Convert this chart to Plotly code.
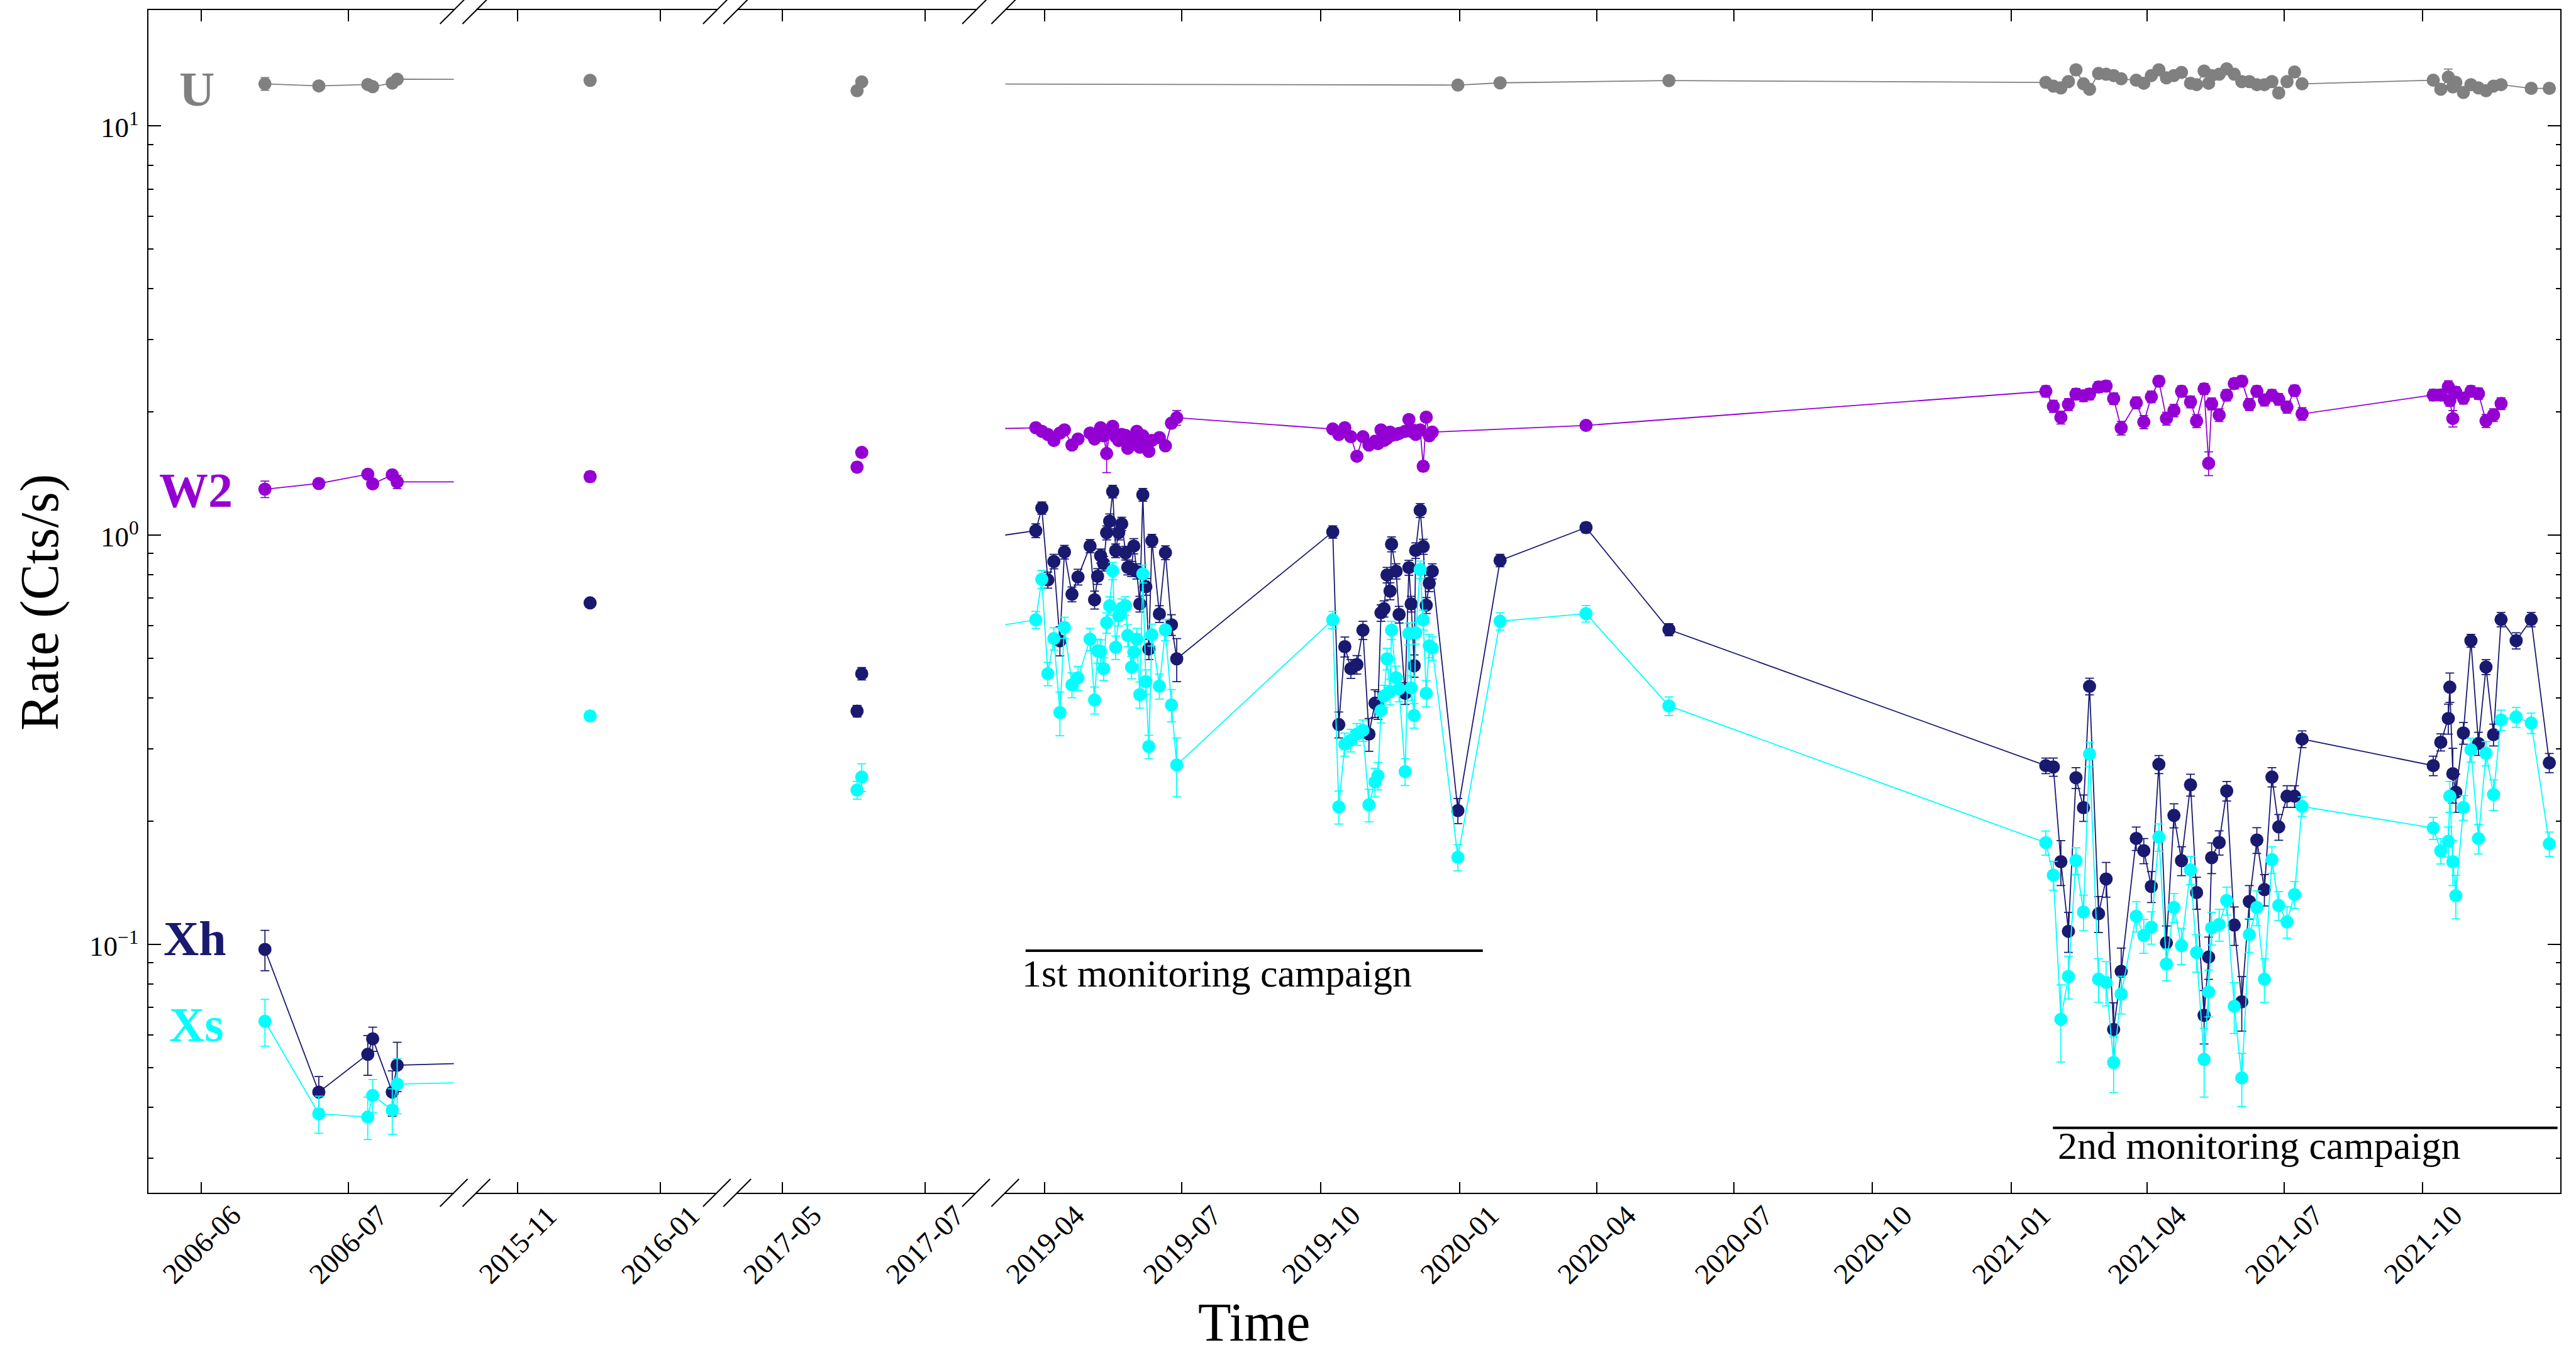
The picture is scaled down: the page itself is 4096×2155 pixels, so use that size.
import math
import plotly.graph_objects as go

# ------------------------------------------------------------------
# Swift monitoring light curves: UVOT U / UVW2 and XRT hard / soft
# count rates, shown on a broken time axis with four panels.
# ------------------------------------------------------------------

# XRT epochs (also used for UVW2)
xrt_dates = [
    # 2006
    "2006-06-14", "2006-06-25", "2006-07-05", "2006-07-06", "2006-07-10", "2006-07-11",
    # 2015
    "2015-12-02",
    # 2017
    "2017-06-02", "2017-06-04",
    # 2019, first campaign (spring)
    "2019-03-26", "2019-03-30", "2019-04-03", "2019-04-07", "2019-04-11", "2019-04-14",
    "2019-04-19", "2019-04-23", "2019-05-01", "2019-05-04", "2019-05-06", "2019-05-08",
    "2019-05-10", "2019-05-12", "2019-05-14", "2019-05-16", "2019-05-18", "2019-05-20",
    "2019-05-22", "2019-05-24 12:00", "2019-05-26", "2019-05-28 12:00", "2019-05-30",
    "2019-06-01", "2019-06-03", "2019-06-05", "2019-06-07", "2019-06-09", "2019-06-11",
    "2019-06-16", "2019-06-20", "2019-06-24", "2019-06-27 12:00",
    # 2019, first campaign (autumn)
    "2019-10-09", "2019-10-13", "2019-10-17", "2019-10-21", "2019-10-25", "2019-10-29",
    "2019-11-02", "2019-11-06", "2019-11-08", "2019-11-10", "2019-11-12", "2019-11-14",
    "2019-11-16", "2019-11-17", "2019-11-20", "2019-11-22", "2019-11-26", "2019-11-28 12:00",
    "2019-11-30", "2019-12-02", "2019-12-03", "2019-12-06", "2019-12-08", "2019-12-10",
    "2019-12-12", "2019-12-14", "2019-12-31",
    # 2020
    "2020-01-28", "2020-03-25", "2020-05-19",
    # 2021, second campaign (spring)
    "2021-01-24", "2021-01-29", "2021-02-03", "2021-02-08", "2021-02-13", "2021-02-18",
    "2021-02-22", "2021-02-28", "2021-03-05", "2021-03-10", "2021-03-15", "2021-03-25",
    "2021-03-30", "2021-04-04", "2021-04-09", "2021-04-14", "2021-04-19", "2021-04-24",
    "2021-04-30", "2021-05-04", "2021-05-09", "2021-05-12", "2021-05-14", "2021-05-19",
    "2021-05-24", "2021-05-29", "2021-06-03", "2021-06-08", "2021-06-13", "2021-06-18",
    "2021-06-23", "2021-06-27 12:00", "2021-07-03", "2021-07-08", "2021-07-13",
    # 2021, second campaign (autumn)
    "2021-10-08", "2021-10-13", "2021-10-18", "2021-10-19", "2021-10-21", "2021-10-23",
    "2021-10-28", "2021-11-02", "2021-11-07", "2021-11-12", "2021-11-17", "2021-11-22",
    "2021-12-02", "2021-12-12", "2021-12-24",
]

xh_rate = [
    0.0971, 0.0435, 0.0538, 0.0587, 0.0435, 0.0506,
    0.682,
    0.371, 0.458,
    1.024, 1.163, 0.776, 0.861, 0.551, 0.908, 0.716, 0.789, 0.939, 0.694, 0.792,
    0.889, 0.851, 1.012, 1.080, 1.276, 0.915, 1.012, 1.064, 0.903, 0.833, 0.826,
    0.939, 0.815, 0.678, 1.253, 0.747, 0.526, 0.968, 0.641, 0.905, 0.603, 0.498,
    1.017, 0.344, 0.533, 0.471, 0.482, 0.585, 0.326, 0.388, 0.384, 0.645, 0.660,
    0.798, 0.729, 0.949, 0.815, 0.639, 0.410, 0.832, 0.678, 0.479, 0.916, 1.148,
    0.936, 0.673, 0.762, 0.815, 0.212,
    0.866, 1.042, 0.587,
    0.273, 0.271, 0.159, 0.1075, 0.255, 0.2155, 0.4265, 0.1187, 0.1443, 0.0619, 0.0858,
    0.1813, 0.1692, 0.1384, 0.275, 0.1008, 0.2063, 0.160, 0.245, 0.1337, 0.067, 0.093,
    0.1627, 0.1771, 0.2367, 0.1113, 0.0723, 0.1271, 0.1796, 0.1359, 0.256, 0.1934,
    0.2298, 0.2298, 0.317,
    0.273, 0.3114, 0.356, 0.4246, 0.261, 0.235, 0.328, 0.5515, 0.3093, 0.4755, 0.325,
    0.621, 0.5515, 0.621, 0.2773,
]
xh_err = [
    0.011, 0.004, 0.006, 0.004, 0.0055, 0.007,
    0.012,
    0.012, 0.016,
    0.04, 0.04, 0.035, 0.035, 0.045, 0.035, 0.03, 0.035, 0.035, 0.035, 0.035,
    0.035, 0.035, 0.04, 0.045, 0.045, 0.035, 0.04, 0.04, 0.035, 0.035, 0.035,
    0.04, 0.035, 0.03, 0.045, 0.035, 0.03, 0.035, 0.03, 0.035, 0.035, 0.06,
    0.035, 0.025, 0.03, 0.025, 0.025, 0.03, 0.03, 0.03, 0.03, 0.03, 0.03,
    0.035, 0.035, 0.04, 0.035, 0.03, 0.025, 0.035, 0.03, 0.03, 0.04, 0.045,
    0.04, 0.03, 0.035, 0.035, 0.015,
    0.03, 0.03, 0.02,
    0.012, 0.014, 0.02, 0.012, 0.015, 0.016, 0.02, 0.012, 0.014, 0.01, 0.012,
    0.012, 0.012, 0.012, 0.014, 0.01, 0.014, 0.013, 0.015, 0.012, 0.01, 0.011,
    0.014, 0.012, 0.013, 0.012, 0.011, 0.012, 0.013, 0.012, 0.014, 0.014,
    0.014, 0.014, 0.015,
    0.015, 0.015, 0.03, 0.035, 0.04, 0.025, 0.02, 0.02, 0.02, 0.02, 0.02,
    0.025, 0.025, 0.025, 0.015,
]

xs_rate = [
    0.0648, 0.0385, 0.0378, 0.0427, 0.0393, 0.0455,
    0.361,
    0.238, 0.256,
    0.620, 0.779, 0.458, 0.558, 0.368, 0.594, 0.430, 0.447, 0.556, 0.395, 0.521,
    0.519, 0.471, 0.610, 0.671, 0.817, 0.531, 0.634, 0.662, 0.671, 0.568, 0.475,
    0.517, 0.556, 0.407, 0.803, 0.438, 0.304, 0.570, 0.427, 0.586, 0.384, 0.274,
    0.620, 0.2165, 0.308, 0.315, 0.326, 0.333, 0.219, 0.249, 0.258, 0.372, 0.404,
    0.498, 0.414, 0.585, 0.448, 0.421, 0.264, 0.574, 0.423, 0.362, 0.576, 0.823,
    0.620, 0.410, 0.536, 0.529, 0.163,
    0.615, 0.642, 0.382,
    0.177, 0.1474, 0.0655, 0.0834, 0.160, 0.1198, 0.2913, 0.0821, 0.0806, 0.0514, 0.0755,
    0.117, 0.105, 0.110, 0.1826, 0.0894, 0.1229, 0.0992, 0.1518, 0.0954, 0.0523, 0.0764,
    0.1095, 0.1117, 0.1278, 0.0705, 0.0471, 0.1055, 0.1229, 0.0821, 0.1608, 0.1243,
    0.1134, 0.1322, 0.217,
    0.1922, 0.169, 0.1783, 0.2298, 0.159, 0.1313, 0.2157, 0.2985, 0.1811, 0.2926, 0.232,
    0.353, 0.3589, 0.347, 0.1758,
]
xs_err = [
    0.0085, 0.004, 0.0045, 0.004, 0.005, 0.007,
    0.01,
    0.012, 0.02,
    0.03, 0.04, 0.03, 0.035, 0.045, 0.035, 0.03, 0.03, 0.035, 0.03, 0.035,
    0.035, 0.03, 0.035, 0.035, 0.04, 0.035, 0.035, 0.035, 0.035, 0.035, 0.03,
    0.035, 0.035, 0.03, 0.04, 0.03, 0.02, 0.035, 0.03, 0.035, 0.035, 0.045,
    0.03, 0.02, 0.02, 0.02, 0.02, 0.02, 0.02, 0.02, 0.02, 0.025, 0.025,
    0.03, 0.03, 0.03, 0.03, 0.03, 0.02, 0.035, 0.03, 0.025, 0.035, 0.04,
    0.035, 0.03, 0.035, 0.035, 0.012,
    0.03, 0.03, 0.02,
    0.012, 0.012, 0.014, 0.01, 0.012, 0.012, 0.02, 0.01, 0.01, 0.008, 0.008,
    0.01, 0.01, 0.01, 0.014, 0.008, 0.01, 0.01, 0.012, 0.01, 0.01, 0.01,
    0.01, 0.01, 0.01, 0.01, 0.007, 0.01, 0.012, 0.01, 0.012, 0.01,
    0.01, 0.01, 0.012,
    0.012, 0.012, 0.015, 0.02, 0.02, 0.016, 0.015, 0.02, 0.015, 0.02, 0.02,
    0.02, 0.02, 0.02, 0.012,
]

# UVW2 shares the XRT epochs; None where no UVW2 exposure exists
w2_rate = [
    1.293, 1.335, 1.407, 1.332, 1.402, 1.347,
    1.388,
    1.464, 1.590,
    1.827, 1.791, 1.759, 1.701, 1.773, 1.805, 1.658, 1.715, 1.773, 1.715, 1.760,
    1.827, 1.746, 1.580, 1.780, 1.842, 1.737, 1.700, 1.759, 1.750, 1.628, 1.660,
    1.720, 1.791, 1.637, 1.746, 1.700, 1.600, 1.701, 1.728, 1.650, 1.875, 1.933,
    1.814, 1.759, 1.827, 1.737, 1.556, 1.737, 1.658, 1.693, 1.671, 1.805, 1.701,
    1.720, 1.782, 1.750, 1.759, 1.770, 1.791, 1.914, 1.791, 1.800, 1.760, 1.805,
    1.471, 1.939, 1.746, 1.782, None,
    None, 1.851, None,
    2.243, 2.062, 1.936, 2.083, 2.208, 2.187, 2.208, 2.297, 2.310, 2.152, 1.824,
    2.102, 1.887, 2.174, 2.375, 1.924, 2.013, 2.243, 2.114, 1.898, 2.274, 1.496,
    2.090, 1.962, 2.195, 2.342, 2.375, 2.083, 2.243, 2.136, 2.195, 2.144,
    2.053, 2.252, 1.975,
    2.197, 2.197, 2.300, 2.131, 1.924, 2.231, 2.158, 2.243, 2.214, 1.899, 1.963,
    2.093, None, None, None,
]
w2_err = [
    0.06, 0.03, 0.03, 0.03, 0.03, 0.05,
    0.04,
    0.04, 0.04,
    0.03, 0.03, 0.03, 0.04, 0.03, 0.03, 0.04, 0.03, 0.03, 0.03, 0.03,
    0.03, 0.03, 0.16, 0.03, 0.03, 0.03, 0.03, 0.03, 0.03, 0.03, 0.03,
    0.03, 0.03, 0.03, 0.03, 0.03, 0.03, 0.03, 0.03, 0.03, 0.05, 0.08,
    0.04, 0.03, 0.03, 0.03, 0.03, 0.03, 0.03, 0.03, 0.03, 0.03, 0.03,
    0.03, 0.03, 0.03, 0.03, 0.03, 0.03, 0.04, 0.03, 0.03, 0.03, 0.03,
    0.04, 0.04, 0.03, 0.03, None,
    None, 0.04, None,
    0.07, 0.07, 0.07, 0.07, 0.07, 0.07, 0.07, 0.07, 0.07, 0.07, 0.07,
    0.07, 0.07, 0.07, 0.07, 0.07, 0.07, 0.07, 0.07, 0.07, 0.07, 0.10,
    0.07, 0.07, 0.07, 0.07, 0.07, 0.07, 0.07, 0.07, 0.07, 0.07,
    0.07, 0.07, 0.07,
    0.07, 0.07, 0.08, 0.07, 0.09, 0.07, 0.07, 0.07, 0.07, 0.07, 0.07,
    0.07, None, None, None,
]

# UVOT U band has its own, sparser set of epochs
u_dates = [
    "2006-06-14", "2006-06-25", "2006-07-05", "2006-07-06", "2006-07-10", "2006-07-11",
    "2015-12-02",
    "2017-06-02", "2017-06-04",
    "2019-12-31", "2020-01-28", "2020-05-19",
    "2021-01-24", "2021-01-29", "2021-02-03", "2021-02-08", "2021-02-13", "2021-02-18",
    "2021-02-22", "2021-02-28", "2021-03-05", "2021-03-10", "2021-03-15", "2021-03-25",
    "2021-03-30", "2021-04-04", "2021-04-09", "2021-04-14", "2021-04-19", "2021-04-24",
    "2021-04-30", "2021-05-04", "2021-05-09", "2021-05-12", "2021-05-14", "2021-05-19",
    "2021-05-24", "2021-05-29", "2021-06-03", "2021-06-08", "2021-06-13", "2021-06-18",
    "2021-06-23", "2021-06-27 12:00", "2021-07-03", "2021-07-08", "2021-07-13",
    "2021-10-08", "2021-10-13", "2021-10-18", "2021-10-21", "2021-10-23", "2021-10-28",
    "2021-11-02", "2021-11-07", "2021-11-12", "2021-11-17", "2021-11-22", "2021-12-12",
    "2021-12-24",
]
u_rate = [
    12.65, 12.50, 12.60, 12.45, 12.70, 12.98,
    12.90,
    12.17, 12.79,
    12.56, 12.72, 12.88,
    12.75, 12.49, 12.36, 12.81, 13.69, 12.65, 12.27, 13.41, 13.35, 13.25, 13.01,
    12.91, 12.69, 13.25, 13.69, 13.08, 13.25, 13.49, 12.69, 12.59, 13.59, 12.69,
    13.25, 13.35, 13.76, 13.35, 12.81, 12.81, 12.59, 12.59, 12.81, 12.02, 12.81,
    13.52, 12.65,
    12.91, 12.27, 13.14, 12.43, 12.75, 12.05, 12.59, 12.36, 12.17, 12.49, 12.59,
    12.33, 12.33,
]
u_err = [
    0.45, 0.20, 0.20, 0.20, 0.20, 0.20,
    0.20,
    0.20, 0.20,
    0.20, 0.20, 0.20,
    0.20, 0.20, 0.20, 0.25, 0.20, 0.20, 0.25, 0.20, 0.20, 0.20, 0.20,
    0.20, 0.25, 0.20, 0.20, 0.20, 0.20, 0.20, 0.25, 0.20, 0.20, 0.25,
    0.20, 0.20, 0.20, 0.20, 0.20, 0.20, 0.20, 0.25, 0.20, 0.20, 0.20,
    0.20, 0.20,
    0.25, 0.20, 0.60, 0.30, 0.25, 0.20, 0.20, 0.20, 0.20, 0.20, 0.20,
    0.20, 0.20,
]

for label, seq, ref in [("xh_rate", xh_rate, xrt_dates), ("xh_err", xh_err, xrt_dates),
                        ("xs_rate", xs_rate, xrt_dates), ("xs_err", xs_err, xrt_dates),
                        ("w2_rate", w2_rate, xrt_dates), ("w2_err", w2_err, xrt_dates),
                        ("u_rate", u_rate, u_dates), ("u_err", u_err, u_dates)]:
    if len(seq) != len(ref):
        raise ValueError(f"{label}: {len(seq)} values for {len(ref)} epochs")

# Panels of the broken time axis: visible date span and tick dates
panel_ranges = [
    ("2006-05-21 05:00", "2006-07-22 13:40"),
    ("2015-10-14 08:00", "2016-01-25 06:00"),
    ("2017-04-11 17:00", "2017-07-22 22:00"),
    ("2019-03-05 17:00", "2021-12-31 06:30"),
]
panel_ticks = [
    ["2006-06-01", "2006-07-01"],
    ["2015-11-01", "2016-01-01"],
    ["2017-05-01", "2017-07-01"],
    ["2019-04-01", "2019-07-01", "2019-10-01", "2020-01-01", "2020-04-01",
     "2020-07-01", "2020-10-01", "2021-01-01", "2021-04-01", "2021-07-01",
     "2021-10-01"],
]
y_major = [0.1, 1, 10]
y_major_text = ["10<sup>\u22121</sup>", "10<sup>0</sup>", "10<sup>1</sup>"]
y_minor = [0.03, 0.04, 0.05, 0.06, 0.07, 0.08, 0.09,
           0.2, 0.3, 0.4, 0.5, 0.6, 0.7, 0.8, 0.9,
           2, 3, 4, 5, 6, 7, 8, 9]

COLORS = {"U": "#808080", "W2": "#9400D3", "Xh": "#191970", "Xs": "#00FFFF"}
SERIF = "Liberation Serif"

# ---- geometry: layout drawn on a 4680 x 2462 grid, scaled to output ----
S = 0.875
FIG_W, FIG_H = 4096, 2155
X_LEFT, X_RIGHT = 270 * S, 4653 * S
Y_TOP, Y_BOTTOM = 18 * S, 2168 * S
PLOT_W = X_RIGHT - X_LEFT
PLOT_H = Y_BOTTOM - Y_TOP
PANEL_GRID = [(270, 825), (866, 1303), (1340, 1774), (1827, 4653)]
Y_RANGE = [-1.6075, 1.2823]


def px(x):
    return (x * S - X_LEFT) / PLOT_W


def py(y):
    return (Y_BOTTOM - y * S) / PLOT_H


def y_log_paper(v):
    # position of a rate value on the shared log axis, as a paper fraction
    return (math.log10(v) - Y_RANGE[0]) / (Y_RANGE[1] - Y_RANGE[0])


fig = go.Figure()

series = [
    ("U", u_dates, u_rate, u_err),
    ("W2", xrt_dates, w2_rate, w2_err),
    ("Xh", xrt_dates, xh_rate, xh_err),
    ("Xs", xrt_dates, xs_rate, xs_err),
]

for k in range(4):
    xa = "x" if k == 0 else f"x{k + 1}"
    ya = "y" if k == 0 else f"y{k + 1}"
    mode = "lines+markers" if k in (0, 3) else "markers"
    for name, xd, yd, ed in series:
        c = COLORS[name]
        fig.add_trace(go.Scatter(
            x=xd, y=yd, mode=mode, xaxis=xa, yaxis=ya, name=name,
            error_y=dict(type="data", array=ed, color=c, thickness=1.75, width=7),
            marker=dict(color=c, size=21, line=dict(width=0)),
            line=dict(color=c, width=1.8),
            connectgaps=True, showlegend=False, hoverinfo="skip",
        ))

layout = dict(
    width=FIG_W, height=FIG_H, autosize=False,
    margin=dict(l=X_LEFT, r=FIG_W - X_RIGHT, t=Y_TOP, b=FIG_H - Y_BOTTOM, pad=0),
    paper_bgcolor="white", plot_bgcolor="white",
    font=dict(family=SERIF, color="black"),
    showlegend=False,
)

for k in range(4):
    a, b = PANEL_GRID[k]
    xname = "xaxis" if k == 0 else f"xaxis{k + 1}"
    yref = "y" if k == 0 else f"y{k + 1}"
    layout[xname] = dict(
        type="date", domain=[px(a), px(b)], range=list(panel_ranges[k]),
        anchor=yref, showline=True, linecolor="black", linewidth=2,
        mirror="ticks", ticks="inside", ticklen=17.5, tickwidth=1.75,
        tickcolor="black", tickmode="array", tickvals=panel_ticks[k],
        showticklabels=False, showgrid=False, zeroline=False, fixedrange=True,
    )

minor_ticks = dict(ticks="inside", ticklen=7.5, tickwidth=1.5, tickcolor="black",
                   tickmode="array", tickvals=y_minor, showgrid=False)

layout["yaxis"] = dict(
    type="log", range=Y_RANGE, domain=[0, 1], anchor="x", side="left",
    showline=True, linecolor="black", linewidth=2,
    ticks="inside", ticklen=20, tickwidth=1.75, tickcolor="black",
    tickmode="array", tickvals=y_major, showticklabels=False,
    minor=minor_ticks, showgrid=False, zeroline=False, fixedrange=True,
)
for k in (2, 3):
    layout[f"yaxis{k}"] = dict(type="log", range=Y_RANGE, domain=[0, 1],
                               anchor=f"x{k}", visible=False, fixedrange=True)
layout["yaxis4"] = dict(
    type="log", range=Y_RANGE, domain=[0, 1], anchor="x4", side="right",
    showline=True, linecolor="black", linewidth=2,
    ticks="inside", ticklen=20, tickwidth=1.75, tickcolor="black",
    tickmode="array", tickvals=y_major, showticklabels=False,
    minor=minor_ticks, showgrid=False, zeroline=False, fixedrange=True,
)
# short decade ticks at the cut edge of the last panel
layout["yaxis5"] = dict(
    type="log", range=Y_RANGE, domain=[0, 1], anchor="x4", side="left",
    overlaying="y4", showline=False, ticks="inside", ticklen=7,
    tickwidth=1.75, tickcolor="black", tickmode="array", tickvals=y_major,
    showticklabels=False, showgrid=False, zeroline=False, fixedrange=True,
)

annotations = []
shapes = []

# decade labels left of the rate axis
for v, txt in zip(y_major, y_major_text):
    annotations.append(dict(
        text=txt, x=px(255), y=y_log_paper(v), xref="paper", yref="paper",
        showarrow=False, xanchor="right", yanchor="middle",
        font=dict(family=SERIF, size=45, color="black"),
    ))

# rotated date labels centred under each tick
for k, ticks in enumerate(panel_ticks):
    xr = "x" if k == 0 else f"x{k + 1}"
    for t in ticks:
        annotations.append(dict(
            text=t[:7], x=t, xref=xr, y=py(2262), yref="paper",
            textangle=-45, showarrow=False, xanchor="center", yanchor="middle",
            font=dict(family=SERIF, size=46, color="black"),
        ))

# axis titles
annotations.append(dict(text="Time", x=px(2279), y=py(2461), xref="paper", yref="paper",
                        showarrow=False, xanchor="center", yanchor="bottom",
                        font=dict(family=SERIF, size=86, color="black")))
annotations.append(dict(text="Rate (Cts/s)", x=px(72), y=py(1095), xref="paper", yref="paper",
                        textangle=-90, showarrow=False, xanchor="center", yanchor="middle",
                        font=dict(family=SERIF, size=86, color="black")))

# band labels
for name, gx, gy in [("U", 358, 161), ("W2", 356, 891), ("Xh", 355, 1706), ("Xs", 357, 1862)]:
    annotations.append(dict(text=f"<b>{name}</b>", x=px(gx), y=py(gy), xref="paper", yref="paper",
                            showarrow=False, xanchor="center", yanchor="middle",
                            font=dict(family=SERIF, size=78, color=COLORS[name])))

# monitoring campaign markers
for label, x0, x1, ybar, xtxt, ytxt in [
    ("1st monitoring campaign", 1864, 2695, 1728, 1855, 1769),
    ("2nd monitoring campaign", 3731, 4648, 2050, 3737, 2082),
]:
    shapes.append(dict(type="line", xref="paper", yref="paper",
                       x0=px(x0), x1=px(x1), y0=py(ybar), y1=py(ybar),
                       line=dict(color="black", width=3.9)))
    annotations.append(dict(text=label, x=px(xtxt), y=py(ytxt), xref="paper", yref="paper",
                            showarrow=False, xanchor="left", yanchor="middle",
                            font=dict(family=SERIF, size=62, color="black")))

# diagonal break marks where the time axis is cut
edges = [PANEL_GRID[0][1], PANEL_GRID[1][0], PANEL_GRID[1][1],
         PANEL_GRID[2][0], PANEL_GRID[2][1], PANEL_GRID[3][0]]
for e in edges:
    for yy in (0, 1):
        shapes.append(dict(type="line", xref="paper", yref="paper",
                           xsizemode="pixel", ysizemode="pixel",
                           xanchor=px(e), yanchor=yy,
                           x0=-22, x1=22, y0=-22, y1=22,
                           line=dict(color="black", width=2)))

layout["annotations"] = annotations
layout["shapes"] = shapes
fig.update_layout(**layout)

fig.write_html("out.html", config={"displayModeBar": False})
